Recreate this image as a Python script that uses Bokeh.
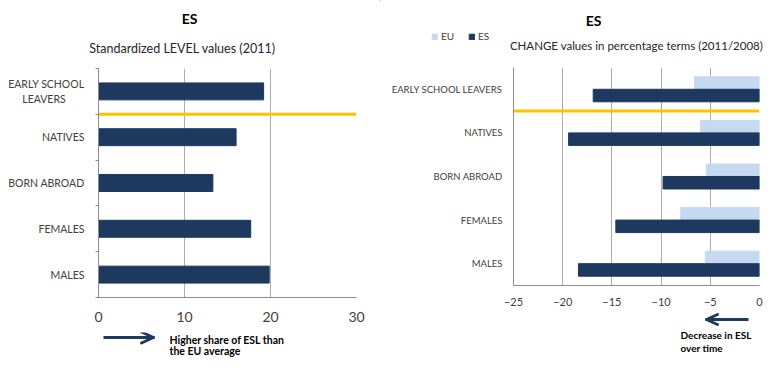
from bokeh.plotting import figure
from bokeh.models import (Range1d, FixedTicker, Label, Legend, LegendItem, ColumnDataSource)
from bokeh.layouts import row, column
from bokeh.transform import dodge
from bokeh.embed import file_html
from bokeh.resources import INLINE

# ---------------- data ----------------
categories = ["MALES", "FEMALES", "BORN ABROAD", "NATIVES", "EARLY SCHOOL LEAVERS"]
level_es = [19.85, 17.7, 13.3, 16.0, 19.2]          # Standardized LEVEL values (2011)
change_eu = [-5.5, -8.0, -5.4, -6.0, -6.6]          # CHANGE % (2011/2008), EU
change_es = [-18.4, -14.6, -9.8, -19.4, -16.9]      # CHANGE % (2011/2008), ES
series = ["EU", "ES"]
level_ticks = [0, 10, 20, 30]
change_ticks = [-25, -20, -15, -10, -5, 0]

NAVY = "#1D3960"
LIGHT = "#C6D9F1"
YELLOW = "#FFC000"
GRID = "#ADADAD"
AXIS = "#8C8C8C"
TXT = "#404040"
FONT = "Lato"
NB = "\u00a0"

ypos = [i + 0.5 for i in range(len(categories))]
bounds = list(range(len(categories) + 1))
sep = len(categories) - 1  # boundary below EARLY SCHOOL LEAVERS


def deco_fig(w, h, x0, y0):
    """Axis-less figure whose data coordinates equal page pixels."""
    f = figure(width=w, height=h, x_range=Range1d(x0, x0 + w), y_range=Range1d(y0 + h, y0),
               output_backend="svg", toolbar_location=None, title=None,
               x_axis_location=None, y_axis_location=None,
               min_border=0, min_border_left=0, min_border_right=0,
               min_border_top=0, min_border_bottom=0)
    f.outline_line_color = None
    f.grid.visible = False
    f.background_fill_alpha = 0
    f.border_fill_alpha = 0
    return f


def txt(f, x, y, text, size, bold=False, color="black", align="center"):
    f.add_layout(Label(x=x, y=y, text=text, text_font=FONT, text_font_size=size,
                       text_font_style="bold" if bold else "normal",
                       text_color=color, text_align=align, text_baseline="middle"))


def arrow(f, x0, x1, y, head):
    d = 1 if x1 > x0 else -1
    f.segment(x0=[x0], y0=[y], x1=[x1], y1=[y], line_color=NAVY, line_width=3)
    f.segment(x0=[x1 + d], y0=[y], x1=[x1 - d * head], y1=[y - head * 0.5],
              line_color=NAVY, line_width=3, line_cap="round")
    f.segment(x0=[x1 + d], y0=[y], x1=[x1 - d * head], y1=[y + head * 0.5],
              line_color=NAVY, line_width=3, line_cap="round")


# ================= LEFT PANEL =================
LW = 380
H1_H, M1_H = 60, 272
N1_H = 358 - H1_H - M1_H
L_FL, L_FW = 98, 258

h1 = deco_fig(LW, H1_H, 0, 0)
txt(h1, 189, 18, "ES", "14px", bold=True)
txt(h1, 182, 48, "Standardized LEVEL values (2011)", "12.5px", color="#262626")

m1 = figure(width=LW, height=M1_H, x_range=Range1d(level_ticks[0], level_ticks[-1]),
            y_range=Range1d(0, len(categories)),
            output_backend="svg", toolbar_location=None, title=None,
            min_border_left=L_FL, min_border_right=LW - L_FL - L_FW,
            min_border_top=8, min_border_bottom=M1_H - 8 - 229)
m1.outline_line_color = None
src1 = ColumnDataSource(dict(y=ypos, v=level_es))
m1.hbar(y="y", left=0, right="v", height=0.37, source=src1, color=NAVY)
m1.line(x=[level_ticks[0], level_ticks[-1]], y=[sep, sep], line_color=YELLOW, line_width=3)

m1.xaxis.ticker = FixedTicker(ticks=level_ticks)
m1.xaxis.major_tick_out = 0
m1.xaxis.major_tick_in = 0
m1.xaxis.minor_tick_out = 0
m1.xaxis.minor_tick_in = 0
m1.xaxis.major_label_standoff = 14
m1.xaxis.major_label_text_font = FONT
m1.xaxis.major_label_text_font_size = "14px"
m1.xaxis.major_label_text_color = TXT
m1.xaxis.axis_line_color = AXIS

left_labels = ["EARLY SCHOOL\nLEAVERS" + NB * 7 if c == "EARLY SCHOOL LEAVERS" else c
               for c in categories]
m1.yaxis.ticker = FixedTicker(ticks=ypos, minor_ticks=bounds)
m1.yaxis.major_label_overrides = {y: c for y, c in zip(ypos, left_labels)}
m1.yaxis.major_tick_out = 0
m1.yaxis.major_tick_in = 0
m1.yaxis.minor_tick_out = 3
m1.yaxis.minor_tick_in = 0
m1.yaxis.minor_tick_line_color = AXIS
m1.yaxis.major_label_standoff = 11
m1.yaxis.major_label_text_font = FONT
m1.yaxis.major_label_text_font_size = "10.5px"
m1.yaxis.major_label_text_color = TXT
m1.yaxis.axis_line_color = AXIS
m1.ygrid.visible = False
m1.xgrid.grid_line_color = GRID

n1 = deco_fig(LW, N1_H, 0, H1_H + M1_H)
arrow(n1, 103, 152, 337, 11)
txt(n1, 169, 339, "Higher share of ESL than", "10.5px", bold=True, align="left")
txt(n1, 169, 350, "the EU average", "10.5px", bold=True, align="left")

# ================= RIGHT PANEL =================
RX = LW
RW = 763 - LW
FL = 133            # frame left offset inside the right figure
FW = 246            # frame width
H2_H, M2_H = 59, 252
N2_H = 358 - H2_H - M2_H

h2 = deco_fig(RW, H2_H, RX, 0)
fl_page = RX + FL
txt(h2, fl_page + 80, 20, "ES", "14px", bold=True)
txt(h2, fl_page + FW / 2, 45, "CHANGE values in percentage terms (2011/2008)", "11.5px", color="#262626")
# legend samples (kept far outside the visible range of this decoration panel)
dummy = ColumnDataSource(dict(y=[-1000], v=[-999]))
d_eu = h2.hbar(y="y", right="v", height=1, source=dummy, color=LIGHT)
d_es = h2.hbar(y="y", right="v", height=1, source=dummy, color=NAVY)
legend = Legend(items=[LegendItem(label=series[0], renderers=[d_eu]),
                       LegendItem(label=series[1], renderers=[d_es])],
                orientation="horizontal", location=(fl_page - 82 - RX, H2_H - 42),
                label_text_font=FONT, label_text_font_size="10px", label_text_color=TXT,
                glyph_width=7, glyph_height=7, label_standoff=3, spacing=7,
                padding=0, margin=0, border_line_color=None, background_fill_alpha=0,
                label_height=10)
h2.add_layout(legend)

m2 = figure(width=RW, height=M2_H, x_range=Range1d(change_ticks[0], change_ticks[-1]),
            y_range=Range1d(0, len(categories)),
            output_backend="svg", toolbar_location=None, title=None,
            min_border_left=FL, min_border_right=RW - FL - FW,
            min_border_top=8, min_border_bottom=M2_H - 8 - 218)
m2.outline_line_color = None
src2 = ColumnDataSource(dict(y=ypos, eu=change_eu, es=change_es))
m2.hbar(y=dodge("y", 0.143), left="eu", right=0, height=0.287, source=src2, color=LIGHT)
m2.hbar(y=dodge("y", -0.143), left="es", right=0, height=0.287, source=src2, color=NAVY)
m2.line(x=[change_ticks[0], change_ticks[-1]], y=[sep, sep], line_color=YELLOW, line_width=3)

m2.xaxis.ticker = FixedTicker(ticks=change_ticks)
m2.xaxis.major_tick_out = 0
m2.xaxis.major_tick_in = 0
m2.xaxis.minor_tick_out = 0
m2.xaxis.minor_tick_in = 0
m2.xaxis.major_label_standoff = 12
m2.xaxis.major_label_text_font = FONT
m2.xaxis.major_label_text_font_size = "11px"
m2.xaxis.major_label_text_color = TXT
m2.xaxis.axis_line_color = AXIS

m2.yaxis.ticker = FixedTicker(ticks=ypos)
m2.yaxis.major_label_overrides = {y: c for y, c in zip(ypos, categories)}
m2.yaxis.major_tick_out = 0
m2.yaxis.major_tick_in = 0
m2.yaxis.minor_tick_out = 0
m2.yaxis.minor_tick_in = 0
m2.yaxis.major_label_standoff = 11
m2.yaxis.major_label_text_font = FONT
m2.yaxis.major_label_text_font_size = "9.5px"
m2.yaxis.major_label_text_color = TXT
m2.yaxis.axis_line_color = AXIS
m2.ygrid.visible = False
m2.xgrid.grid_line_color = GRID

n2 = deco_fig(RW, N2_H, RX, H2_H + M2_H)
zero_px = fl_page + FW
arrow(n2, zero_px - 11, zero_px - 52, 319, 10)
txt(n2, zero_px - 79, 334, "Decrease in ESL", "10px", bold=True, align="left")
txt(n2, zero_px - 79, 347, "over time", "10px", bold=True, align="left")

layout = row(column(row(h1), m1, row(n1)), column(row(h2), m2, row(n2)))
open("out.html", "w").write(file_html(layout, INLINE))
